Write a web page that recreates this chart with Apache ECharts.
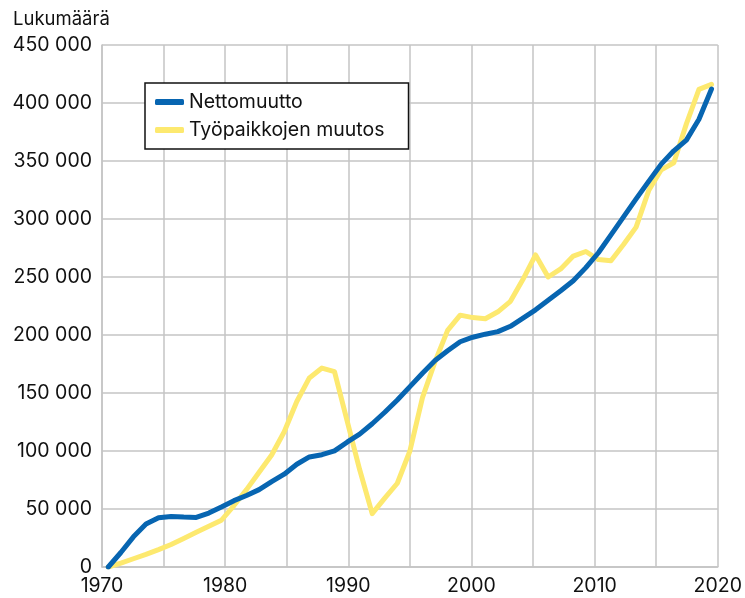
<!DOCTYPE html>
<html>
<head>
<meta charset="utf-8">
<script src="https://cdn.jsdelivr.net/npm/echarts/dist/echarts.min.js"></script>
<style>
html,body{margin:0;padding:0;background:#fff;}
#chart{width:745px;height:598px;}
</style>
</head>
<body>
<div id="chart"></div>
<script>
const years = ['1971','1972','1973','1974','1975','1976','1977','1978','1979','1980',
  '1981','1982','1983','1984','1985','1986','1987','1988','1989','1990',
  '1991','1992','1993','1994','1995','1996','1997','1998','1999','2000',
  '2001','2002','2003','2004','2005','2006','2007','2008','2009','2010',
  '2011','2012','2013','2014','2015','2016','2017','2018','2019'];

const nettomuutto = [0, 12500, 26000, 37000, 42500, 43600, 43000, 42700, 46500, 51700,
  57200, 61600, 66700, 73600, 80000, 88600, 94900, 96800, 100100, 107600,
  114500, 123500, 133400, 144000, 155500, 167000, 178000, 186400, 194200, 198100,
  200700, 202900, 207500, 214500, 221700, 229900, 238100, 246700, 258100, 270900,
  286300, 301800, 317300, 332400, 347300, 358800, 368000, 386000, 412000];

const tyopaikat = [0, 3250, 7100, 10900, 15000, 19400, 24600, 29900, 35100, 40300,
  53000, 66700, 81600, 96600, 116600, 142700, 163000, 171500, 168500, 126100,
  84000, 46000, 59400, 72200, 100000, 146000, 177000, 204000, 217100, 215000,
  214000, 220000, 229000, 248000, 269000, 250000, 257000, 268000, 272000, 265000,
  264000, 278000, 293000, 324500, 342400, 348500, 382000, 411700, 416000];

const seriesNames = ['Nettomuutto', 'Työpaikkojen muutos'];
const seriesColors = ['#0765b1', '#fde96f'];
const yAxisTitle = 'Lukumäärä';
const xAxisRange = [1970, 2020];
const yAxisRange = [0, 450000];

const FONT = 'Inter, "Liberation Sans", sans-serif';
const chart = echarts.init(document.getElementById('chart'), null, {renderer:'canvas'});

const gridColor = '#c4c4c4';

chart.setOption({
  backgroundColor: '#ffffff',
  animation: false,
  title: {
    text: yAxisTitle,
    left: 8, top: 5,
    textStyle: {fontFamily: FONT, fontSize: 18.5, fontWeight: 'normal', color: '#111'}
  },
  legend: {
    data: seriesNames,
    orient: 'vertical',
    left: 145, top: 83,
    backgroundColor: '#fff',
    borderColor: '#111', borderWidth: 1.5, borderRadius: 0,
    padding: [9, 24, 9, 10],
    itemGap: 8,
    itemWidth: 29, itemHeight: 6,
    icon: 'roundRect',
    textStyle: {fontFamily: FONT, fontSize: 19.5, color: '#111', lineHeight: 20}
  },
  grid: {left: 102, right: 22, top: 45, bottom: 31, containLabel: false},
  xAxis: [{
    type: 'value',
    min: xAxisRange[0], max: xAxisRange[1], interval: 5,
    axisLine: {show: true, lineStyle: {color: gridColor, width: 1.5}},
    axisTick: {show: false},
    splitLine: {show: true, lineStyle: {color: gridColor, width: 1.5}},
    axisLabel: {
      margin: 9,
      fontFamily: FONT, fontSize: 19.5, color: '#111',
      formatter: v => (v % 10 === 0 ? String(v) : '')
    }
  }, {
    type: 'category',
    data: years,
    boundaryGap: true,
    show: false
  }],
  yAxis: {
    type: 'value',
    min: yAxisRange[0], max: yAxisRange[1], interval: 50000,
    axisLine: {show: true, lineStyle: {color: gridColor, width: 1.5}},
    axisTick: {show: false},
    splitLine: {show: true, lineStyle: {color: gridColor, width: 1.5}},
    axisLabel: {
      margin: 10,
      fontFamily: FONT, fontSize: 19.5, color: '#111',
      formatter: v => String(v).replace(/\B(?=(\d{3})+(?!\d))/g, ' ')
    }
  },
  series: [{
    name: seriesNames[0],
    type: 'line',
    xAxisIndex: 1,
    data: nettomuutto,
    showSymbol: false, symbol: 'none',
    z: 4,
    color: seriesColors[0],
    lineStyle: {width: 5, color: seriesColors[0], cap: 'round', join: 'round'}
  }, {
    name: seriesNames[1],
    type: 'line',
    xAxisIndex: 1,
    data: tyopaikat,
    showSymbol: false, symbol: 'none',
    z: 3,
    color: seriesColors[1],
    lineStyle: {width: 5, color: seriesColors[1], cap: 'round', join: 'round'}
  }]
});
</script>
</body>
</html>
